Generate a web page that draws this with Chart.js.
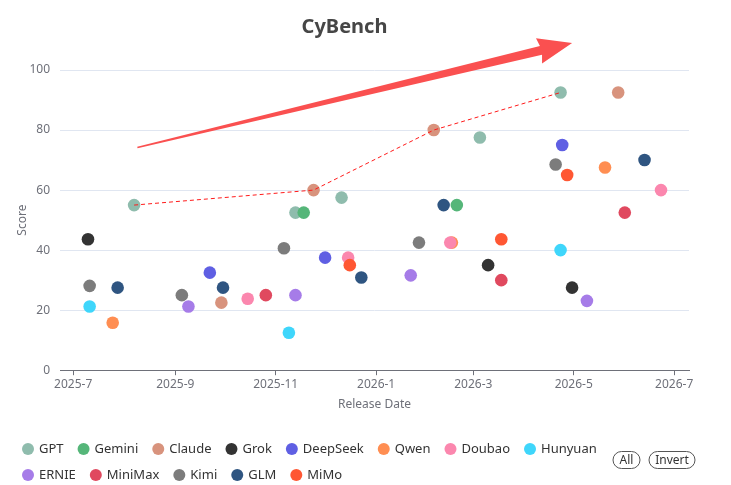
<!DOCTYPE html>
<html>
<head>
<meta charset="utf-8">
<script src="https://cdn.jsdelivr.net/npm/chart.js@4.4.1/dist/chart.umd.min.js"></script>
<style>
  html, body { margin: 0; padding: 0; background: #fff; }
  #wrap { width: 731px; height: 485px; position: relative; }
</style>
</head>
<body>
<div id="wrap"><canvas id="cybenchChart"></canvas></div>
<script>
// series (legend order)
const seriesNames = ['GPT', 'Gemini', 'Claude', 'Grok', 'DeepSeek', 'Qwen', 'Doubao', 'Hunyuan', 'ERNIE', 'MiniMax', 'Kimi', 'GLM', 'MiMo'];
const seriesColors = ['#8fbcad', '#55b679', '#d8937d', '#333333', '#5f5fe3', '#ff8e52', '#fb87ae', '#3fd6fb', '#a67ce8', '#e0495f', '#7c7c7c', '#2f5581', '#ff5733'];

const gptDates = ['2025-08-07', '2025-11-13', '2025-12-11', '2026-03-05', '2026-04-23'];
const gptScores = [55, 52.5, 57.5, 77.5, 92.5];
const geminiDates = ['2025-11-18', '2026-02-19'];
const geminiScores = [52.5, 55];
const claudeDates = ['2025-09-29', '2025-11-24', '2026-02-05', '2026-05-28'];
const claudeScores = [22.5, 60, 80, 92.5];
const grokDates = ['2025-07-10', '2026-03-10', '2026-04-30'];
const grokScores = [43.6, 35, 27.5];
const deepseekDates = ['2025-09-22', '2025-12-01', '2026-04-24'];
const deepseekScores = [32.5, 37.5, 75];
const qwenDates = ['2025-07-25', '2026-02-16', '2026-05-20'];
const qwenScores = [15.8, 42.5, 67.5];
const doubaoDates = ['2025-10-15', '2025-12-15', '2026-02-15', '2026-06-23'];
const doubaoScores = [23.8, 37.5, 42.5, 60];
const hunyuanDates = ['2025-07-11', '2025-11-09', '2026-04-23'];
const hunyuanScores = [21.2, 12.5, 40];
const ernieDates = ['2025-09-09', '2025-11-13', '2026-01-22', '2026-05-09'];
const ernieScores = [21.2, 25, 31.6, 23.1];
const minimaxDates = ['2025-10-26', '2026-03-18', '2026-06-01'];
const minimaxScores = [25, 30, 52.5];
const kimiDates = ['2025-07-11', '2025-09-05', '2025-11-06', '2026-01-27', '2026-04-20'];
const kimiScores = [28.1, 25, 40.6, 42.5, 68.5];
const glmDates = ['2025-07-28', '2025-09-30', '2025-12-23', '2026-02-11', '2026-06-13'];
const glmScores = [27.5, 27.5, 30.9, 55, 70];
const mimoDates = ['2025-12-16', '2026-03-18', '2026-04-27'];
const mimoScores = [35, 43.6, 65];

const seriesDates = [gptDates, geminiDates, claudeDates, grokDates, deepseekDates, qwenDates, doubaoDates, hunyuanDates, ernieDates, minimaxDates, kimiDates, glmDates, mimoDates];
const seriesScores = [gptScores, geminiScores, claudeScores, grokScores, deepseekScores, qwenScores, doubaoScores, hunyuanScores, ernieScores, minimaxScores, kimiScores, glmScores, mimoScores];

// best-so-far frontier (dashed)
const frontierDates = ['2025-08-07', '2025-11-24', '2026-02-05', '2026-04-23'];
const frontierScores = [55, 60, 80, 92.5];

// trend arrow, in data units
const arrowDates = ['2025-08-09', '2026-04-30'];
const arrowScores = [74.2, 109];

// x axis
const tickDates = ['2025-07-01', '2025-09-01', '2025-11-01', '2026-01-01', '2026-03-01', '2026-05-01', '2026-07-01'];
const tickLabels = ['2025-7', '2025-9', '2025-11', '2026-1', '2026-3', '2026-5', '2026-7'];
const axisDates = ['2025-06-23', '2026-07-10'];

// days since 2025-07-01
function dayOf(s) {
    const p = s.split('-').map(Number);
    return (Date.UTC(p[0], p[1] - 1, p[2]) - Date.UTC(2025, 6, 1)) / 86400000;
}

const FONT = '"Noto Sans", "DejaVu Sans", sans-serif';
const AXIS_GREY = '#6e7079';

const datasets = seriesNames.map((name, i) => ({
    label: name,
    data: seriesDates[i].map((d, j) => ({ x: dayOf(d), y: seriesScores[i][j] })),
    backgroundColor: seriesColors[i],
    borderColor: seriesColors[i],
    pointRadius: 6.3,
    pointHoverRadius: 6.3,
    borderWidth: 0,
    order: -i
}));

datasets.push({
    label: 'frontier',
    data: frontierDates.map((d, j) => ({ x: dayOf(d), y: frontierScores[j] })),
    showLine: true,
    borderColor: '#ff1a1a',
    borderWidth: 1,
    borderDash: [4, 3],
    pointRadius: 0,
    order: -100
});

// red trend arrow drawn over the plot
const trendArrow = {
    id: 'trendArrow',
    afterDatasetsDraw(chart) {
        const { ctx, scales } = chart;
        const x0 = scales.x.getPixelForValue(dayOf(arrowDates[0]));
        const y0 = scales.y.getPixelForValue(arrowScores[0]);
        const x1 = scales.x.getPixelForValue(dayOf(arrowDates[1]));
        const y1 = scales.y.getPixelForValue(arrowScores[1]);
        const ang = Math.atan2(y1 - y0, x1 - x0);
        const len = Math.hypot(x1 - x0, y1 - y0);
        const headLen = 34, headHalf = 13;
        ctx.save();
        ctx.translate(x0, y0);
        ctx.rotate(ang);
        ctx.fillStyle = '#fa5050';
        ctx.beginPath();
        ctx.moveTo(0, -0.8);
        ctx.lineTo(len - headLen + 2, -4.5);
        ctx.lineTo(len - headLen, -headHalf);
        ctx.lineTo(len, 0);
        ctx.lineTo(len - headLen, headHalf);
        ctx.lineTo(len - headLen + 2, 4.5);
        ctx.lineTo(0, 0.8);
        ctx.closePath();
        ctx.fill();
        ctx.restore();
    }
};

// legend in two rows plus All / Invert buttons
const bottomLegend = {
    id: 'bottomLegend',
    afterDraw(chart) {
        const ctx = chart.ctx;
        ctx.save();
        ctx.font = '13px ' + FONT;
        ctx.textBaseline = 'middle';
        ctx.textAlign = 'left';
        let x = 22, y = 449;
        seriesNames.forEach((name, i) => {
            const w = 17 + ctx.measureText(name).width;
            if (x + w > 615) { x = 22; y += 26; }
            ctx.fillStyle = seriesColors[i];
            ctx.beginPath();
            ctx.arc(x + 6, y, 6, 0, Math.PI * 2);
            ctx.fill();
            ctx.fillStyle = '#333';
            ctx.fillText(name, x + 17, y + 0.5);
            x += w + 14;
        });

        const buttons = [['All', 626.5, 27], ['Invert', 672, 46]];
        ctx.font = '12px ' + FONT;
        ctx.textAlign = 'center';
        ctx.strokeStyle = '#555';
        ctx.lineWidth = 1;
        buttons.forEach(b => {
            const cy = 460, h = 17;
            ctx.beginPath();
            ctx.roundRect(b[1] - b[2] / 2, cy - h / 2, b[2], h, h / 2);
            ctx.stroke();
            ctx.fillStyle = '#333';
            ctx.fillText(b[0], b[1], cy + 0.5);
        });
        ctx.restore();
    }
};

const config = {
    type: 'scatter',
    data: { datasets: datasets },
    plugins: [trendArrow, bottomLegend],
    options: {
        responsive: true,
        maintainAspectRatio: false,
        animation: false,
        layout: { padding: { left: 0, right: 42, top: 0, bottom: 71 } },
        plugins: {
            legend: { display: false },
            tooltip: { enabled: false },
            title: {
                display: true,
                text: 'CyBench',
                color: '#464646',
                font: { family: FONT, size: 20, weight: 'bold' },
                padding: { top: 15, bottom: 31 }
            }
        },
        scales: {
            x: {
                type: 'linear',
                min: dayOf(axisDates[0]),
                max: dayOf(axisDates[1]),
                afterBuildTicks: scale => {
                    scale.ticks = tickDates.map(d => ({ value: dayOf(d) }));
                },
                ticks: {
                    color: AXIS_GREY,
                    font: { family: FONT, size: 12 },
                    padding: 2,
                    maxRotation: 0,
                    autoSkip: false,
                    callback: (v, i) => tickLabels[i]
                },
                grid: { drawOnChartArea: false, drawTicks: true, tickLength: 5, color: AXIS_GREY },
                border: { display: true, color: AXIS_GREY, width: 1 },
                title: {
                    display: true,
                    text: 'Release Date',
                    color: AXIS_GREY,
                    font: { family: FONT, size: 12 },
                    padding: { top: 4, bottom: 2 }
                }
            },
            y: {
                min: 0,
                max: 100,
                afterFit: scale => { scale.width = 60; },
                ticks: {
                    stepSize: 20,
                    color: AXIS_GREY,
                    font: { family: FONT, size: 12 },
                    padding: 10
                },
                grid: { color: '#e0e6f1', drawTicks: false },
                border: { display: false },
                title: {
                    display: true,
                    text: 'Score',
                    color: AXIS_GREY,
                    font: { family: FONT, size: 12 },
                    padding: { top: 15, bottom: 0 }
                }
            }
        }
    }
};

const myChart = new Chart(document.getElementById('cybenchChart'), config);
</script>
</body>
</html>
